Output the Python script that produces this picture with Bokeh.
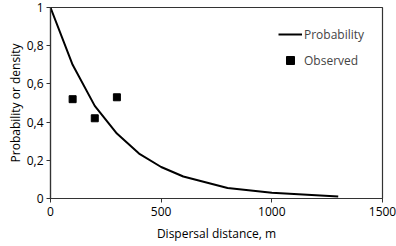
from bokeh.plotting import figure
from bokeh.models import Range1d, FixedTicker, CustomJSTickFormatter, Legend, LegendItem
from bokeh.embed import file_html
from bokeh.resources import INLINE

prob_x = [0, 100, 200, 300, 400, 500, 600, 800, 1000, 1300]
prob_y = [1.0, 0.70, 0.485, 0.34, 0.235, 0.165, 0.115, 0.055, 0.03, 0.01]
obs_x = [100, 200, 300]
obs_y = [0.52, 0.42, 0.53]
x_ticks = [0, 500, 1000, 1500]
y_ticks = [0, 0.2, 0.4, 0.6, 0.8, 1.0]

FONT = "Open Sans"

p = figure(width=396, height=246, output_backend="svg", toolbar_location=None,
           x_range=Range1d(0, 1500), y_range=Range1d(0, 1),
           min_border_left=50, min_border_right=14, min_border_top=7, min_border_bottom=48)
p.grid.visible = False
p.outline_line_color = "#333333"
p.outline_line_width = 1.2
p.background_fill_color = "white"
p.border_fill_color = "white"

line = p.line(prob_x, prob_y, line_color="black", line_width=2)
sq = p.scatter(obs_x, obs_y, marker="square", size=7, fill_color="black", line_color="black")

for ax in (p.xaxis[0], p.yaxis[0]):
    ax.axis_line_color = "#333333"
    ax.axis_line_width = 1.2
    ax.major_tick_line_color = "#333333"
    ax.major_tick_out = 4
    ax.major_tick_in = 0
    ax.minor_tick_line_color = None
    ax.major_label_text_font = FONT
    ax.major_label_text_font_size = "12px"
    ax.major_label_text_color = "black"
    ax.axis_label_text_font = FONT
    ax.axis_label_text_font_size = "12px"
    ax.axis_label_text_font_style = "normal"
    ax.axis_label_text_color = "black"

p.xaxis.ticker = FixedTicker(ticks=x_ticks)
p.yaxis.ticker = FixedTicker(ticks=y_ticks)
p.yaxis.formatter = CustomJSTickFormatter(code="return tick === 0 || tick === 1 ? String(tick) : tick.toFixed(1).replace('.', ',');")
p.xaxis.axis_label = "Dispersal distance, m"
p.yaxis.axis_label = "Probability or density"
p.xaxis.axis_label_standoff = 6
p.yaxis.axis_label_standoff = 0
p.xaxis.major_label_standoff = 4
p.yaxis.major_label_standoff = 3

legend = Legend(items=[LegendItem(label="Probability", renderers=[line]),
                       LegendItem(label="Observed", renderers=[sq])],
                location=(228, 128), border_line_color=None, background_fill_alpha=0,
                label_text_font=FONT, label_text_font_size="12px",
                glyph_width=24, spacing=6, label_standoff=2)
p.add_layout(legend)

open("out.html", "w").write(file_html(p, INLINE))
